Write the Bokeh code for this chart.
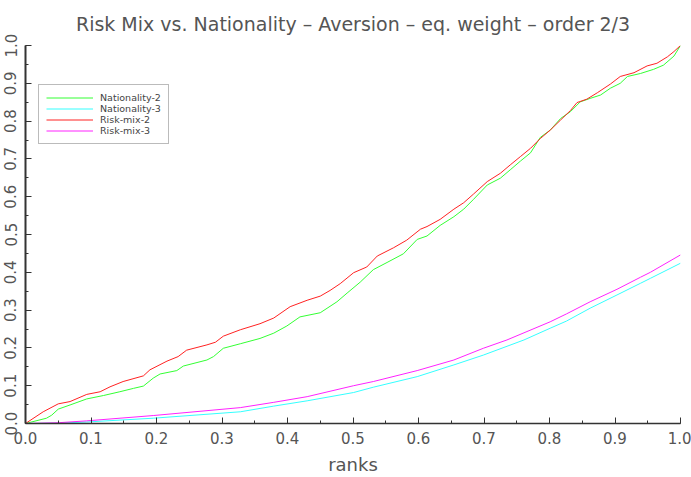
from bokeh.plotting import figure
from bokeh.models import SingleIntervalTicker, PrintfTickFormatter, Legend, LegendItem, Range1d
from bokeh.embed import file_html
from bokeh.resources import INLINE

# ---- data ----
nat2_x = [0, 0.032, 0.040, 0.050, 0.068, 0.0935, 0.119, 0.144, 0.165, 0.180, 0.195, 0.2055, 0.231, 0.241,
          0.277, 0.287, 0.302, 0.328, 0.358, 0.379, 0.399, 0.419, 0.450, 0.4755, 0.491, 0.511, 0.531, 0.552,
          0.577, 0.598, 0.613, 0.633, 0.654, 0.669, 0.684, 0.705, 0.725, 0.740, 0.7555, 0.771, 0.786, 0.801,
          0.817, 0.832, 0.847, 0.862, 0.878, 0.893, 0.908, 0.919, 0.939, 0.959, 0.974, 0.990, 1.0]
nat2_y = [0, 0.014, 0.022, 0.038, 0.049, 0.065, 0.074, 0.084, 0.093, 0.099, 0.120, 0.131, 0.140, 0.152,
          0.168, 0.177, 0.199, 0.211, 0.225, 0.239, 0.258, 0.282, 0.293, 0.322, 0.345, 0.374, 0.407, 0.426,
          0.449, 0.487, 0.496, 0.524, 0.547, 0.567, 0.593, 0.631, 0.649, 0.671, 0.694, 0.716, 0.757, 0.776,
          0.807, 0.825, 0.851, 0.860, 0.869, 0.887, 0.900, 0.918, 0.926, 0.937, 0.948, 0.972, 1.0]

nat3_x = [0, 0.05, 0.0935, 0.195, 0.328, 0.379, 0.430, 0.501, 0.531, 0.598, 0.654, 0.699, 0.761, 0.801,
          0.826, 0.862, 0.903, 0.939, 0.954, 1.0]
nat3_y = [0, 0.001, 0.004, 0.014, 0.031, 0.046, 0.060, 0.082, 0.096, 0.124, 0.155, 0.181, 0.221, 0.252,
          0.271, 0.305, 0.340, 0.371, 0.384, 0.424]

risk2_x = [0, 0.027, 0.050, 0.068, 0.0935, 0.114, 0.129, 0.149, 0.180, 0.190, 0.216, 0.233, 0.246, 0.277,
           0.290, 0.302, 0.328, 0.358, 0.379, 0.404, 0.430, 0.450, 0.465, 0.4805, 0.501, 0.521, 0.537, 0.562,
           0.582, 0.603, 0.613, 0.633, 0.654, 0.669, 0.684, 0.705, 0.725, 0.740, 0.7555, 0.771, 0.786, 0.801,
           0.817, 0.832, 0.842, 0.857, 0.873, 0.893, 0.908, 0.929, 0.949, 0.964, 0.980, 0.990, 1.0]
risk2_y = [0, 0.031, 0.052, 0.058, 0.077, 0.084, 0.097, 0.111, 0.126, 0.142, 0.165, 0.177, 0.194, 0.208,
           0.215, 0.231, 0.248, 0.264, 0.279, 0.309, 0.326, 0.337, 0.352, 0.370, 0.399, 0.414, 0.443, 0.465,
           0.485, 0.514, 0.521, 0.540, 0.567, 0.584, 0.607, 0.640, 0.662, 0.684, 0.706, 0.728, 0.754, 0.776,
           0.803, 0.828, 0.849, 0.858, 0.875, 0.898, 0.918, 0.928, 0.946, 0.953, 0.970, 0.984, 1.0]

risk3_x = [0, 0.05, 0.0935, 0.195, 0.328, 0.379, 0.430, 0.501, 0.531, 0.598, 0.654, 0.699, 0.735, 0.801,
           0.826, 0.862, 0.903, 0.939, 0.954, 1.0]
risk3_y = [0, 0.002, 0.007, 0.021, 0.042, 0.056, 0.071, 0.100, 0.111, 0.140, 0.168, 0.199, 0.221, 0.269,
           0.290, 0.322, 0.355, 0.387, 0.400, 0.446]

series_names = ["Nationality-2", "Nationality-3", "Risk-mix-2", "Risk-mix-3"]
series_colors = ["#33ff33", "#33ffff", "#ff2222", "#ff22ff"]

TITLE = "Risk Mix vs. Nationality \u2013 Aversion \u2013 eq. weight \u2013 order 2/3"
FONT = "DejaVu Sans"
GREY = "#555555"

p = figure(width=691, height=477, output_backend="svg", toolbar_location=None,
           x_range=Range1d(0, 1), y_range=Range1d(0, 1),
           min_border_left=25, min_border_right=11, min_border_top=45, min_border_bottom=53)
p.outline_line_color = None
p.xgrid.visible = False
p.ygrid.visible = False
p.background_fill_color = "white"
p.border_fill_color = "white"

p.title.text = TITLE
p.title.align = "center"
p.title.vertical_align = "top"
p.title.text_font = FONT
p.title.text_font_size = "19px"
p.title.text_font_style = "normal"
p.title.text_color = GREY
p.title.standoff = 18

for ax in (p.xaxis[0], p.yaxis[0]):
    ax.ticker = SingleIntervalTicker(interval=0.1, num_minor_ticks=2)
    ax.formatter = PrintfTickFormatter(format="%.1f")
    ax.major_tick_in = 6
    ax.major_tick_out = 0
    ax.minor_tick_in = 3
    ax.minor_tick_out = 0
    ax.major_label_text_font = FONT
    ax.major_label_text_font_size = "15px"
    ax.major_label_text_color = GREY
    ax.axis_line_color = "#333333"
    ax.major_tick_line_color = "#333333"
    ax.minor_tick_line_color = "#333333"

p.xaxis.axis_line_width = 1.5
p.yaxis.axis_line_width = 2
p.xaxis.major_label_standoff = 8
p.yaxis.major_label_standoff = 9
p.yaxis.major_label_orientation = "vertical"

p.xaxis.axis_label = "ranks"
p.xaxis.axis_label_text_font = FONT
p.xaxis.axis_label_text_font_size = "18px"
p.xaxis.axis_label_text_font_style = "normal"
p.xaxis.axis_label_text_color = GREY
p.xaxis.axis_label_standoff = 7

r1 = p.line(nat2_x, nat2_y, line_color=series_colors[0], line_width=1)
r2 = p.line(nat3_x, nat3_y, line_color=series_colors[1], line_width=1)
r3 = p.line(risk2_x, risk2_y, line_color=series_colors[2], line_width=1)
r4 = p.line(risk3_x, risk3_y, line_color=series_colors[3], line_width=1)

legend = Legend(items=[LegendItem(label=n, renderers=[r]) for n, r in zip(series_names, [r1, r2, r3, r4])],
                location=(13, 279))
legend.glyph_width = 47
legend.glyph_height = 11
legend.label_height = 11
legend.spacing = 0
legend.padding = 7
legend.margin = 0
legend.label_standoff = 7
legend.label_text_font = FONT
legend.label_text_font_size = "9.5px"
legend.label_text_color = "#444444"
legend.border_line_color = "#777777"
legend.border_line_width = 1
legend.background_fill_alpha = 1
p.add_layout(legend)

open("out.html", "w").write(file_html(p, INLINE))
